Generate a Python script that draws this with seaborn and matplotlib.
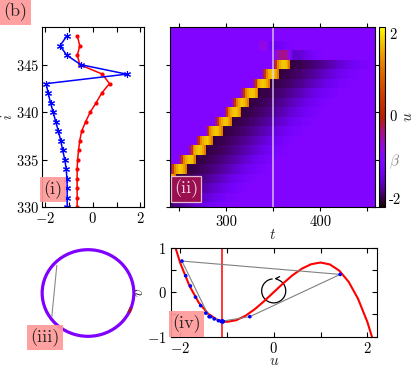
import numpy as np
import matplotlib
matplotlib.use("Agg")
import matplotlib.pyplot as plt
from matplotlib import patches, transforms
import seaborn as sns

# --- snapshot at t = 350 (panels i and iv) ---
sites = [330, 331, 332, 333, 334, 335, 336, 337, 338, 339,
         340, 341, 342, 343, 344, 345, 346, 347, 348]
u_snap = [-1.08, -1.08, -1.08, -1.09, -1.12, -1.18, -1.27, -1.35, -1.45, -1.56,
          -1.67, -1.78, -1.88, -1.96, 1.42, -0.51, -1.10, -1.38, -1.10]
v_snap = [-0.66, -0.66, -0.66, -0.66, -0.66, -0.64, -0.60, -0.55, -0.47, -0.30,
          -0.11, 0.14, 0.37, 0.70, 0.40, -0.55, -0.65, -0.55, -0.65]
link_sites = [347, 343, 344, 345, 346, 347]

# --- space-time plot (panel ii) ---
heat_sites = list(range(330, 350))
t_edges = np.arange(240, 462, 2)
u_rest = -1.1
beta = -1.1
t_snap = 350
pulse_onsets = {330: 198, 331: 208, 332: 218, 333: 228, 334: 240, 335: 250,
                336: 260, 337: 268, 338: 278, 339: 288, 340: 298, 341: 306,
                342: 316, 343: 328, 344: 338, 345: 350}
pulse_rise = [-0.5, 0.4]
pulse_top = [1.3, 1.6, 1.75, 1.8, 1.75, 1.55, 1.2]
pulse_wake = [-2.02, -2.01, -2.00, -1.99, -1.98, -1.97, -1.96, -1.94, -1.93, -1.91,
              -1.90, -1.88, -1.86, -1.84, -1.82, -1.80, -1.78, -1.76, -1.73, -1.71,
              -1.68, -1.66, -1.63, -1.61, -1.58, -1.55, -1.52, -1.49, -1.46, -1.43,
              -1.40, -1.37, -1.34, -1.31, -1.29, -1.27, -1.25, -1.23, -1.21, -1.19,
              -1.17, -1.15, -1.13, -1.11, -1.10, -1.09]
weak_onsets = {346: 352, 347: 334}
weak_profiles = {
    346: [-0.8, -0.55, -0.45, -0.4, -0.4, -0.45, -0.55, -0.8, -1.2, -1.5,
          -1.55, -1.55, -1.53, -1.5, -1.47, -1.43, -1.39, -1.35, -1.31, -1.27,
          -1.24, -1.21, -1.18, -1.16, -1.14, -1.12, -1.11],
    347: [-0.95, -0.8, -0.75, -0.8, -0.95, -1.2, -1.33, -1.36, -1.38, -1.36,
          -1.33, -1.30, -1.27, -1.24, -1.21, -1.18, -1.16, -1.14, -1.12, -1.11],
}

# --- cubic nullcline (panel iv) ---
null_u = [-2.2, -2.0, -1.8, -1.6, -1.4, -1.2, -1.0, -0.8, -0.6, -0.4, -0.2, 0.0,
          0.2, 0.4, 0.6, 0.8, 1.0, 1.2, 1.4, 1.6, 1.8, 2.0, 2.2]
null_v = [1.349, 0.667, 0.144, -0.235, -0.485, -0.624, -0.667, -0.629, -0.528,
          -0.379, -0.197, 0.0, 0.197, 0.379, 0.528, 0.629, 0.667, 0.624, 0.485,
          0.235, -0.144, -0.667, -1.349]

# --- ring sketch (panel iii) ---
ring_chord_x = [-0.68, -0.79]
ring_chord_y = [0.64, -0.55]
ring_hot_arc = [-27, -20]

sns.set_theme(style="ticks")
plt.rcParams.update({
    "font.family": "serif",
    "font.serif": ["cmr10"],
    "mathtext.fontset": "cm",
    "axes.formatter.use_mathtext": True,
    "font.size": 10.5,
    "axes.linewidth": 0.8,
    "axes.edgecolor": "black",
    "xtick.color": "black", "ytick.color": "black",
    "xtick.direction": "in", "ytick.direction": "in",
    "xtick.top": True, "ytick.right": True,
    "xtick.major.size": 3.5, "ytick.major.size": 3.5,
    "xtick.minor.size": 3.5, "ytick.minor.size": 3.5,
    "xtick.major.width": 0.8, "ytick.major.width": 0.8,
    "xtick.minor.width": 0.8, "ytick.minor.width": 0.8,
    "xtick.labelsize": 10.5, "ytick.labelsize": 10.5,
    "xtick.major.pad": 3, "ytick.major.pad": 3,
})

W, H = 416, 374
fig = plt.figure(figsize=(W / 100, H / 100), dpi=100)


def box(x0, y0, x1, y1):
    # pixel box (top-left origin) -> figure fraction rect
    return [x0 / W, 1 - y1 / H, (x1 - x0) / W, (y1 - y0) / H]


# panel (i)
ax1 = fig.add_axes(box(41.7, 26.7, 144, 207))
sns.lineplot(x=v_snap, y=sites, sort=False, estimator=None, ax=ax1, color="red",
             lw=1.1, marker="o", markersize=3, markeredgecolor="red", markeredgewidth=0)
sns.lineplot(x=u_snap, y=sites, sort=False, estimator=None, ax=ax1, color="blue",
             lw=1.1, marker=(6, 2, 0), markersize=5, markeredgecolor="blue",
             markeredgewidth=0.8)
ax1.set_xlim(-2.15, 2.15)
ax1.set_ylim(330, 349)
ax1.set_xticks([-2, 0, 2])
ax1.set_xticks([-1, 1], minor=True)
ax1.set_yticks([330, 335, 340, 345])
ax1.tick_params(axis="y", pad=2)
fig.text(7.0 / W, 1 - 117 / H, "$i$", fontsize=10.5, rotation=90, ha="center",
         va="center")

# panel (ii)
heat = np.full((len(heat_sites), len(t_edges) - 1), u_rest)
for r, site in enumerate(heat_sites):
    if site in pulse_onsets:
        onset, prof = pulse_onsets[site], pulse_rise + pulse_top + pulse_wake
    elif site in weak_onsets:
        onset, prof = weak_onsets[site], weak_profiles[site]
    else:
        continue
    c0 = int((onset - t_edges[0]) // 2)
    for k, val in enumerate(prof):
        if 0 <= c0 + k < heat.shape[1]:
            heat[r, c0 + k] = val
i_edges = np.arange(heat_sites[0] - 0.5, heat_sites[-1] + 1.0, 1.0)

ax2 = fig.add_axes(box(170, 26.7, 375, 207))
mesh = ax2.pcolormesh(t_edges, i_edges, heat, cmap="gnuplot", vmin=-2.2, vmax=2.15,
                      shading="flat", rasterized=True)
ax2.axvline(t_snap, color="#e4d8ff", lw=1.1, alpha=0.85)
ax2.set_xlim(240, 458)
ax2.set_ylim(330, 349)
ax2.set_xticks([250, 300, 350, 400, 450])
ax2.set_xticklabels(["", "300", "", "400", ""])
ax2.set_yticks([330, 335, 340, 345])
ax2.tick_params(direction="inout", length=6, labelleft=False, top=True, right=True)
ax2.set_xlabel("$t$", fontsize=11, labelpad=-1)

cax = fig.add_axes(box(379, 27.3, 385, 207))
cb = fig.colorbar(mesh, cax=cax)
cb.set_ticks([-2, 0, 2])
cb.set_ticklabels(["-2", "0", "2"])
cb.outline.set_linewidth(0.8)
cax.tick_params(direction="in", length=2, pad=3, labelsize=10.5)
cax.set_ylabel("$u$", fontsize=11, rotation=90)
cax.yaxis.set_label_coords(3.7, 0.5)
cax.text(1.6, beta, r"$\beta$", color="#888888", fontsize=11, va="center", ha="left",
         transform=transforms.blended_transform_factory(cax.transAxes, cax.transData))

# panel (iii)
ax3 = fig.add_axes(box(33, 238, 143, 348))
ax3.set_xlim(-1.2, 1.2)
ax3.set_ylim(-1.27, 1.27)
ax3.axis("off")
ax3.add_patch(patches.Circle((0, 0), 1.0, fill=False, ec="#8000ff", lw=2.3))
ax3.add_patch(patches.Arc((0, 0), 2.0, 2.0, theta1=ring_hot_arc[0],
                          theta2=ring_hot_arc[1], color="#a01040", lw=2.3))
ax3.plot(ring_chord_x, ring_chord_y, color="#8a8a8a", lw=0.8)

# panel (iv)
ax4 = fig.add_axes(box(170.7, 247.7, 376.7, 336.7))
ax4.axvline(beta, color="red", lw=1.1)
sns.lineplot(x=null_u, y=null_v, sort=False, estimator=None, ax=ax4, color="red", lw=1.5)
lu = [u_snap[sites.index(s)] for s in link_sites]
lv = [v_snap[sites.index(s)] for s in link_sites]
ax4.plot(lu, lv, color="#808080", lw=0.8, zorder=3)
sns.scatterplot(x=u_snap, y=v_snap, ax=ax4, color="blue", s=7, edgecolor="none",
                zorder=4)
rot_c, rot_ru, rot_rv = (0.0, 0.03), 0.257, 0.27
ax4.add_patch(patches.Arc(rot_c, 2 * rot_ru, 2 * rot_rv, theta1=95, theta2=420,
                          color="black", lw=0.9))
a0, a1 = np.deg2rad(62), np.deg2rad(100)
ax4.annotate("", xy=(rot_c[0] + rot_ru * np.cos(a1), rot_c[1] + rot_rv * np.sin(a1)),
             xytext=(rot_c[0] + rot_ru * np.cos(a0), rot_c[1] + rot_rv * np.sin(a0)),
             arrowprops=dict(arrowstyle="->", color="black", lw=0.9,
                             connectionstyle="arc3,rad=0.25", mutation_scale=7))
ax4.set_xlim(-2.2, 2.2)
ax4.set_ylim(-1, 1)
ax4.set_xticks([-2, 0, 2])
ax4.set_xticks([-1, 1], minor=True)
ax4.set_yticks([-1, 0, 1])
ax4.set_yticks([-0.5, 0.5], minor=True)
ax4.set_xlabel("$u$", fontsize=11, labelpad=-1)
ax4.set_ylabel("$v$", fontsize=11, labelpad=1)

# panel tags
tag = dict(boxstyle="square,pad=0.18", fc="#ff9999", ec="none", alpha=0.92)
fig.text(15.5 / W, 1 - 12 / H, "(b)", fontsize=13, ha="center", va="center", bbox=tag)
fig.text(52.8 / W, 1 - 189.5 / H, "(i)", fontsize=13, ha="center", va="center", bbox=tag)
fig.text(45.2 / W, 1 - 337.8 / H, "(iii)", fontsize=13, ha="center", va="center", bbox=tag)
fig.text(186.7 / W, 1 - 324 / H, "(iv)", fontsize=13, ha="center", va="center", bbox=tag)
fig.text(186 / W, 1 - 189 / H, "(ii)", fontsize=13, ha="center", va="center",
         color="#f4d4e4",
         bbox=dict(boxstyle="square,pad=0.18", fc="#9a0f50", ec="#e8b8d0", lw=0.9))

fig.savefig("out.png", dpi=100)
